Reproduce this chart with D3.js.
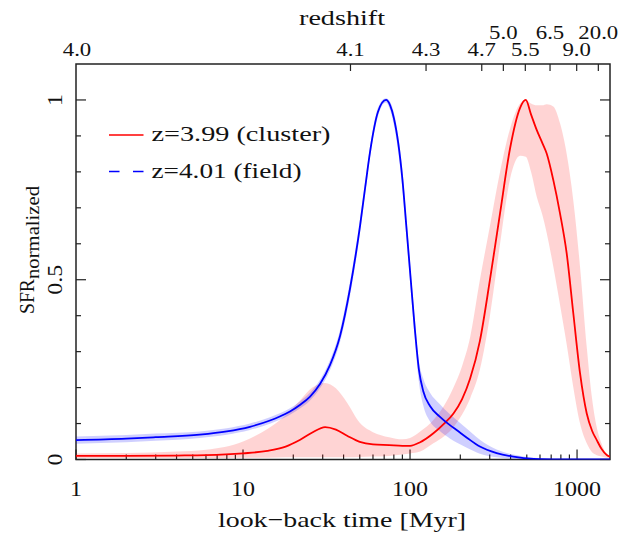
<!DOCTYPE html>
<html>
<head>
<meta charset="utf-8">
<script src="https://cdn.jsdelivr.net/npm/d3@7"></script>
<style>
  html, body { margin: 0; padding: 0; background: #fff; }
  svg { display: block; }
  text { font-family: "Liberation Serif", "DejaVu Serif", serif; fill: #111; }
</style>
</head>
<body>
<svg id="chart" width="631" height="533"></svg>
<script>
// ---------------- data ----------------
// cluster (z=3.99): look-back time [Myr], normalized SFR, band low/high
const clusterT   = [1, 2, 4, 6, 10, 14, 18, 22, 26, 31, 36, 42, 50, 60, 75, 90, 100, 115, 138, 160, 182, 205, 229, 262, 301, 346, 397, 456, 493, 530, 574, 620, 658, 721, 791, 867, 950, 1042, 1143, 1230, 1312, 1400, 1506, 1575];
const clusterSFR = [0.010, 0.010, 0.011, 0.012, 0.017, 0.024, 0.036, 0.055, 0.075, 0.090, 0.083, 0.066, 0.049, 0.042, 0.040, 0.038, 0.038, 0.048, 0.073, 0.100, 0.128, 0.168, 0.225, 0.330, 0.500, 0.685, 0.865, 0.978, 1.000, 0.960, 0.916, 0.880, 0.851, 0.777, 0.684, 0.573, 0.406, 0.240, 0.128, 0.080, 0.054, 0.030, 0.0125, 0.008];
const clusterHi  = [0.017, 0.018, 0.022, 0.027, 0.050, 0.085, 0.123, 0.165, 0.200, 0.213, 0.198, 0.158, 0.102, 0.076, 0.062, 0.056, 0.060, 0.078, 0.110, 0.150, 0.200, 0.260, 0.340, 0.500, 0.650, 0.800, 0.920, 0.990, 1.000, 0.990, 0.985, 0.985, 0.988, 0.982, 0.935, 0.850, 0.720, 0.536, 0.313, 0.170, 0.090, 0.045, 0.015, 0.010];
const clusterLo  = [0.004, 0.004, 0.004, 0.004, 0.005, 0.005, 0.006, 0.006, 0.006, 0.006, 0.006, 0.006, 0.007, 0.008, 0.010, 0.014, 0.017, 0.022, 0.045, 0.065, 0.090, 0.125, 0.170, 0.250, 0.400, 0.600, 0.780, 0.845, 0.842, 0.800, 0.730, 0.680, 0.630, 0.536, 0.430, 0.320, 0.200, 0.100, 0.045, 0.020, 0.012, 0.008, 0.005, 0.005];

// field (z=4.01)
const fieldT   = [1, 2, 3, 5.5, 8, 11, 14.5, 16.6, 19.1, 21.9, 25.2, 28.9, 33.2, 38.1, 43.7, 50.2, 54, 57.6, 64.3, 71.8, 76, 80, 85, 90, 95, 101, 107, 113, 120, 132, 150, 174, 190, 220, 262, 330, 415, 550, 800, 1575];
const fieldSFR = [0.054, 0.058, 0.062, 0.069, 0.078, 0.091, 0.1085, 0.1196, 0.1335, 0.1516, 0.1752, 0.210, 0.263, 0.3435, 0.475, 0.650, 0.760, 0.855, 0.967, 1.000, 0.985, 0.950, 0.880, 0.780, 0.650, 0.500, 0.360, 0.250, 0.190, 0.148, 0.120, 0.095, 0.082, 0.060, 0.036, 0.018, 0.008, 0.002, 0.0005, 0];
const fieldLo  = [0.044, 0.048, 0.052, 0.060, 0.069, 0.082, 0.0995, 0.1106, 0.1245, 0.1416, 0.1642, 0.198, 0.249, 0.327, 0.455, 0.630, 0.742, 0.840, 0.955, 0.993, 0.972, 0.930, 0.855, 0.750, 0.620, 0.470, 0.330, 0.215, 0.150, 0.105, 0.080, 0.058, 0.047, 0.032, 0.016, 0.006, 0.002, 0, 0, 0];
const fieldHi  = [0.064, 0.068, 0.072, 0.078, 0.087, 0.100, 0.1175, 0.1286, 0.1425, 0.1616, 0.1862, 0.222, 0.277, 0.360, 0.495, 0.670, 0.778, 0.870, 0.979, 1.005, 0.995, 0.965, 0.900, 0.805, 0.675, 0.525, 0.385, 0.275, 0.225, 0.185, 0.155, 0.125, 0.110, 0.085, 0.055, 0.028, 0.014, 0.005, 0.001, 0];

// axes
const xTicksMajor = [1, 10, 100, 1000];
const xTickLabels = ["1", "10", "100", "1000"];
const yTicksMajor = [0, 0.5, 1];
const yTickLabels = ["0", "0.5", "1"];
const yTicksMinor = [0.1, 0.2, 0.3, 0.4, 0.6, 0.7, 0.8, 0.9];
// top redshift axis: label, look-back time [Myr], row (0 = lower, 1 = upper)
const zLabels = ["4.1", "4.3", "4.7", "5.0", "5.5", "6.5", "9.0", "20.0"];
const zTimes  = [44, 124.7, 268.8, 362, 490, 689, 995, 1341];
const zRows   = [0, 0, 0, 1, 0, 1, 0, 1];

const seriesNames  = ["z=3.99 (cluster)", "z=4.01 (field)"];
const seriesColors = ["#ff0000", "#0000ff"];

// ---------------- layout ----------------
const L = 76, R = 610, T = 64, B = 459.5;
const svg = d3.select("#chart");
const x = d3.scaleLog().domain([1, 1575]).range([L, R]);
const y = d3.scaleLinear().domain([0, 1.1]).range([B, T]);

// width of a number label in the wide plotting font
const numWidth = (s, digit) => [...s].reduce((w, c) => w + (c === "." ? digit * 0.5 : digit), 0);

svg.append("defs").append("clipPath").attr("id", "clip")
  .append("rect").attr("x", L).attr("y", T).attr("width", R - L).attr("height", B - T);

const axisColor = "#222";

// frame
svg.append("rect").attr("x", L).attr("y", T).attr("width", R - L).attr("height", B - T)
  .attr("fill", "none").attr("stroke", axisColor).attr("stroke-width", 1.5);

// bottom ticks (inward)
const minorX = [];
for (let d = 1; d <= 1000; d *= 10) for (let k = 2; k <= 9; k++) if (d * k < 1575) minorX.push(d * k);
const gb = svg.append("g").attr("stroke", axisColor).attr("stroke-width", 1.2);
gb.selectAll("line.maj").data(xTicksMajor).join("line").attr("class", "maj")
  .attr("x1", d => x(d)).attr("x2", d => x(d)).attr("y1", B).attr("y2", B - 10);
gb.selectAll("line.min").data(minorX).join("line").attr("class", "min")
  .attr("x1", d => x(d)).attr("x2", d => x(d)).attr("y1", B).attr("y2", B - 5);

svg.append("g").selectAll("text").data(xTicksMajor).join("text")
  .attr("x", d => x(d)).attr("y", 496).attr("text-anchor", "middle")
  .attr("font-size", 21).attr("lengthAdjust", "spacingAndGlyphs")
  .attr("textLength", (d, i) => numWidth(xTickLabels[i], 12))
  .text((d, i) => xTickLabels[i]);

// left & right ticks
const gy = svg.append("g").attr("stroke", axisColor).attr("stroke-width", 1.2);
gy.selectAll("line.lmaj").data(yTicksMajor).join("line").attr("class", "lmaj")
  .attr("x1", L).attr("x2", L + 10).attr("y1", d => y(d)).attr("y2", d => y(d));
gy.selectAll("line.lmin").data(yTicksMinor).join("line").attr("class", "lmin")
  .attr("x1", L).attr("x2", L + 5).attr("y1", d => y(d)).attr("y2", d => y(d));
gy.selectAll("line.rmaj").data(yTicksMajor).join("line").attr("class", "rmaj")
  .attr("x1", R).attr("x2", R - 10).attr("y1", d => y(d)).attr("y2", d => y(d));
gy.selectAll("line.rmin").data(yTicksMinor).join("line").attr("class", "rmin")
  .attr("x1", R).attr("x2", R - 5).attr("y1", d => y(d)).attr("y2", d => y(d));

svg.append("g").selectAll("text").data(yTicksMajor).join("text")
  .attr("transform", d => `translate(62,${y(d)}) rotate(-90)`)
  .attr("text-anchor", "middle").attr("font-size", 21).attr("lengthAdjust", "spacingAndGlyphs")
  .attr("textLength", (d, i) => numWidth(yTickLabels[i], 12))
  .text((d, i) => yTickLabels[i]);

// top redshift ticks
const gt = svg.append("g").attr("stroke", axisColor).attr("stroke-width", 1.2);
gt.selectAll("line").data(zTimes).join("line")
  .attr("x1", d => x(d)).attr("x2", d => x(d)).attr("y1", T).attr("y2", T + 7);
svg.append("g").selectAll("text").data(zTimes).join("text")
  .attr("x", d => x(d)).attr("y", (d, i) => zRows[i] ? 39 : 56)
  .attr("text-anchor", "middle").attr("font-size", 19.5).attr("lengthAdjust", "spacingAndGlyphs")
  .attr("textLength", (d, i) => numWidth(zLabels[i], 11.4))
  .text((d, i) => zLabels[i]);
svg.append("text").attr("x", x(1) + 1).attr("y", 56).attr("text-anchor", "middle")
  .attr("font-size", 19.5).attr("lengthAdjust", "spacingAndGlyphs")
  .attr("textLength", numWidth("4.0", 11.4)).text("4.0");

// axis titles
svg.append("text").attr("x", 342).attr("y", 25).attr("text-anchor", "middle")
  .attr("font-size", 20).attr("textLength", 86).attr("lengthAdjust", "spacingAndGlyphs")
  .text("redshift");
svg.append("text").attr("x", 342).attr("y", 527).attr("text-anchor", "middle")
  .attr("font-size", 22).attr("textLength", 248).attr("lengthAdjust", "spacingAndGlyphs")
  .text("look\u2212back time [Myr]");
svg.append("text").attr("transform", "translate(33.5,314) rotate(-90)")
  .attr("font-size", 22).attr("textLength", 35).attr("lengthAdjust", "spacingAndGlyphs").text("SFR");
svg.append("text").attr("transform", "translate(38.5,279) rotate(-90)")
  .attr("font-size", 18).attr("textLength", 93).attr("lengthAdjust", "spacingAndGlyphs").text("normalized");

// ---------------- curves ----------------
const plot = svg.append("g").attr("clip-path", "url(#clip)");
const area = (T_, lo, hi) => d3.area().curve(d3.curveMonotoneX)
  .x((d, i) => x(T_[i])).y0((d, i) => y(lo[i])).y1((d, i) => y(hi[i]))(T_);
const line = (T_, v) => d3.line().curve(d3.curveMonotoneX)
  .x((d, i) => x(T_[i])).y((d, i) => y(v[i]))(T_);

plot.append("path").attr("d", area(clusterT, clusterLo, clusterHi))
  .attr("fill", "#ff0000").attr("fill-opacity", 0.17);
plot.append("path").attr("d", area(fieldT, fieldLo, fieldHi))
  .attr("fill", "#0000ff").attr("fill-opacity", 0.19);
plot.append("path").attr("d", line(clusterT, clusterSFR))
  .attr("fill", "none").attr("stroke", seriesColors[0]).attr("stroke-width", 1.8);
plot.append("path").attr("d", line(fieldT, fieldSFR))
  .attr("fill", "none").attr("stroke", seriesColors[1]).attr("stroke-width", 1.8);

// ---------------- legend ----------------
const legY = [135, 171.5];
const legDash = [null, "10.5,13.5"];
const legLen = [179, 150];
const lg = svg.append("g");
seriesNames.forEach((name, i) => {
  lg.append("line").attr("x1", 109).attr("x2", 143.5).attr("y1", legY[i]).attr("y2", legY[i])
    .attr("stroke", seriesColors[i]).attr("stroke-width", 1.6)
    .attr("stroke-dasharray", legDash[i]);
  lg.append("text").attr("x", 151.5).attr("y", legY[i] + 6).attr("font-size", 21)
    .attr("textLength", legLen[i]).attr("lengthAdjust", "spacingAndGlyphs").text(name);
});
</script>
</body>
</html>
